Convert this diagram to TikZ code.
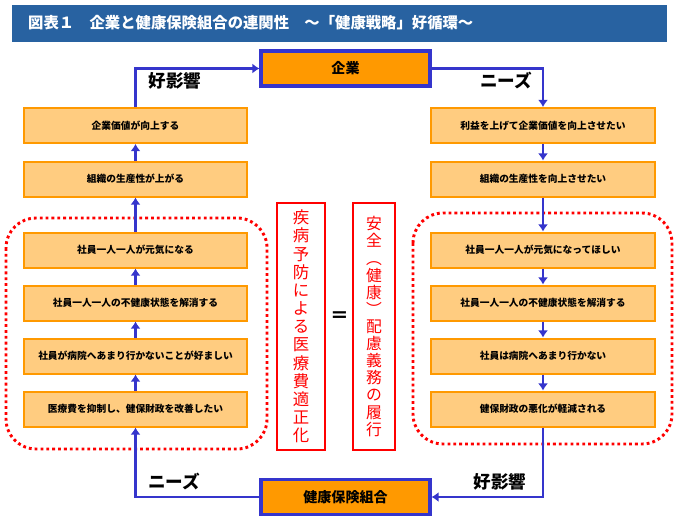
\documentclass[tikz,border=0pt]{standalone}
\usepackage{fontspec}
\setmainfont{Noto Sans CJK JP}
\usetikzlibrary{arrows.meta,positioning}

\definecolor{titleblue}{HTML}{2862A1}
\definecolor{flowblue}{HTML}{3535CC}
\definecolor{darkorange}{HTML}{FF9900}
\definecolor{lightorange}{HTML}{FFCC80}

\tikzset{
  stepbox/.style={draw=darkorange, fill=lightorange, line width=1.7pt,
    minimum width=6.7cm, minimum height=1.05cm, inner sep=0pt,
    font=\bfseries\fontsize{8.3}{10}\selectfont},
  mainbox/.style={draw=flowblue, fill=darkorange, line width=3.2pt,
    minimum width=5.05cm, minimum height=1.05cm, inner sep=0pt,
    font=\bfseries\fontsize{12}{14}\selectfont},
  flow/.style={draw=flowblue, line width=2.5pt,
    -{Latex[length=6pt,width=8.5pt]}},
  flowlabel/.style={font=\bfseries\fontsize{15}{18}\selectfont},
  redbox/.style={draw=red, line width=1.7pt, inner sep=0pt, text=red},
  dotframe/.style={draw=red, line width=2.5pt, dash pattern=on 2.4pt off 2.6pt,
    rounded corners=0.9cm}
}

\begin{document}
\begin{tikzpicture}[x=0.03cm, y=-0.03cm]
    \useasboundingbox (0,0) rectangle (680,525);

    % title bar
    \fill[titleblue] (12,5) rectangle (667,42);
    \node[anchor=west, text=white, font=\bfseries\fontsize{13.1}{15}\selectfont, inner sep=0pt]
      (title) at (28,23) {図表１　企業と健康保険組合の連関性　～「健康戦略」好循環～};

    % dotted frames
    \draw[dotframe] (6,218) rectangle (267,449);
    \draw[dotframe] (413,213) rectangle (672,444);

    % main boxes
    \node[mainbox] (kigyo) at (345.5,68.5) {企業};
    \node[mainbox] (kenpo) at (345.5,497) {健康保険組合};

    % left column
    \node[stepbox] (l1) at (135.5,125.5) {企業価値が向上する};
    \node[stepbox] (l2) at (135.5,179) {組織の生産性が上がる};
    \node[stepbox] (l3) at (135.5,250) {社員一人一人が元気になる};
    \node[stepbox] (l4) at (135.5,303) {社員一人一人の不健康状態を解消する};
    \node[stepbox] (l5) at (135.5,356) {社員が病院へあまり行かないことが好ましい};
    \node[stepbox] (l6) at (135.5,409) {医療費を抑制し、健保財政を改善したい};

    % right column
    \node[stepbox] (r1) at (543,125.5) {利益を上げて企業価値を向上させたい};
    \node[stepbox] (r2) at (543,179) {組織の生産性を向上させたい};
    \node[stepbox] (r3) at (543,250) {社員一人一人が元気になってほしい};
    \node[stepbox] (r4) at (543,303) {社員一人一人の不健康状態を解消する};
    \node[stepbox] (r5) at (543,356) {社員は病院へあまり行かない};
    \node[stepbox] (r6) at (543,409) {健保財政の悪化が軽減される};

    % arrows inside the columns
    \foreach \i/\j in {2/1,3/2,4/3,5/4,6/5} {
      \draw[flow] (l\i.north) -- (l\j.south);
      \draw[flow] (r\j.south) -- (r\i.north);
    }

    % the loop
    \draw[flow] (l1.north) |- (kigyo.west);
    \draw[flow] (kigyo.east) -| (r1.north);
    \draw[flow] (r6.south) |- (kenpo.east);
    \draw[flow] (kenpo.west) -| (l6.south);

    \node[flowlabel] (topgood) at (175,81) {好影響};
    \node[flowlabel] (topneeds) at (506,81) {ニーズ};
    \node[flowlabel] (botneeds) at (174,482) {ニーズ};
    \node[flowlabel] (botgood) at (500,482) {好影響};

    % middle
    \node[redbox, minimum width=1.44cm, minimum height=7.41cm, align=center,
      font=\fontsize{14}{15.5}\selectfont] (prevent) at (301,326.5)
      {疾\\病\\予\\防\\に\\よ\\る\\医\\療\\費\\適\\正\\化};
    \node[redbox, minimum width=1.26cm, minimum height=7.41cm, align=center,
      font=\fontsize{13.5}{14.6}\selectfont] (duty) at (374,326.5)
      {安\\全\\︵\\健\\康\\︶\\配\\慮\\義\\務\\の\\履\\行};
    \node[font=\bfseries\fontsize{16}{18}\selectfont] (equal) at (339.5,317) {＝};
\end{tikzpicture}
\end{document}
